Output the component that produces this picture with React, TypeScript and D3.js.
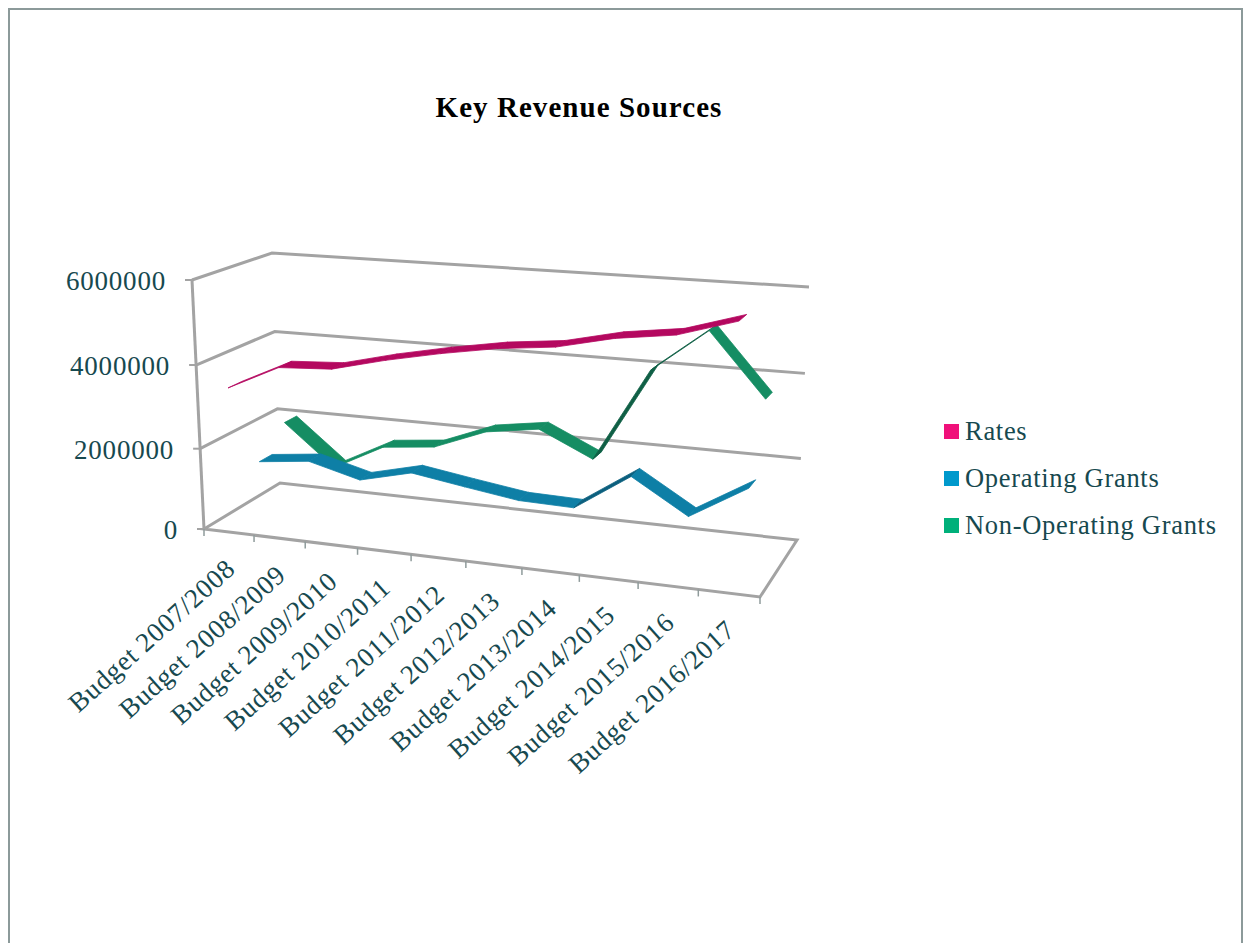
import * as d3 from 'd3';

// -----------------------------------------------------------------------------
// Data
// -----------------------------------------------------------------------------

const categories = [
	'Budget 2007/2008',
	'Budget 2008/2009',
	'Budget 2009/2010',
	'Budget 2010/2011',
	'Budget 2011/2012',
	'Budget 2012/2013',
	'Budget 2013/2014',
	'Budget 2014/2015',
	'Budget 2015/2016',
	'Budget 2016/2017',
];
const yTicks = [0, 2000000, 4000000, 6000000];
const rates = [3450000, 4040000, 4110000, 4420000, 4680000, 4900000, 5040000, 5340000, 5520000, 5930000];
const operatingGrants = [1300000, 1440000, 1110000, 1420000, 1220000, 1030000, 1000000, 1880000, 1090000, 1890000];
const nonOperatingGrants = [1930000, 900000, 1550000, 1680000, 2180000, 2370000, 1770000, 4000000, 5030000, 3560000];

const seriesNames = ['Rates', 'Operating Grants', 'Non-Operating Grants'];
const seriesValues = [rates, operatingGrants, nonOperatingGrants];
const seriesDepth = [0.15, 0.5, 0.85];
const legendColors = ['#f0107a', '#0099cc', '#00b07a'];
const ribbonColors = ['#b4085f', '#0e7fa6', '#158d63'];
const ribbonDark = ['#8f0a4e', '#0b5f7e', '#0f5f45'];

// -----------------------------------------------------------------------------
// Projection: floor quad + height vectors, all in page pixels
// -----------------------------------------------------------------------------

type Pt = [number, number];

const floorFL: Pt = [204, 529];
const floorFR: Pt = [760, 597];
const floorBR: Pt = [797, 540];
const floorBL: Pt = [280, 483];

// vector from floor to the 6000000 level at each corner
const upFL: Pt = [-12, -249];
const upFR: Pt = [8, -274];
const upBR: Pt = [12, -253];
const upBL: Pt = [-8, -230];

const ribbonHalf = 0.085;

function makeHomography(p0: Pt, p1: Pt, p2: Pt, p3: Pt) {
	const dx1 = p1[0] - p2[0];
	const dx2 = p3[0] - p2[0];
	const sx = p0[0] - p1[0] + p2[0] - p3[0];
	const dy1 = p1[1] - p2[1];
	const dy2 = p3[1] - p2[1];
	const sy = p0[1] - p1[1] + p2[1] - p3[1];
	const det = dx1 * dy2 - dx2 * dy1;
	const g = (sx * dy2 - dx2 * sy) / det;
	const h = (dx1 * sy - sx * dy1) / det;
	const a = p1[0] - p0[0] + g * p1[0];
	const b = p3[0] - p0[0] + h * p3[0];
	const d = p1[1] - p0[1] + g * p1[1];
	const e = p3[1] - p0[1] + h * p3[1];
	return (u: number, v: number): Pt => {
		const w = g * u + h * v + 1;
		return [(a * u + b * v + p0[0]) / w, (d * u + e * v + p0[1]) / w];
	};
}

const floor = makeHomography(floorFL, floorFR, floorBR, floorBL);
// slight power curve: the height axis foreshortens a little in the original
const yScale = d3.scalePow().exponent(1.03).domain([0, 6000000]).range([0, 1]);
const band = d3.scaleBand<number>().domain(d3.range(categories.length)).range([0, 1]);

function project(u: number, value: number, depth: number): Pt {
	const [fx, fy] = floor(u, depth);
	const k = yScale(value);
	const mix = (i: 0 | 1) =>
		(1 - u) * (1 - depth) * upFL[i] + u * (1 - depth) * upFR[i] + u * depth * upBR[i] + (1 - u) * depth * upBL[i];
	return [fx + mix(0) * k, fy + mix(1) * k];
}

const center = (i: number) => (band(i) as number) + band.bandwidth() / 2;
const pathOf = d3.line<Pt>();

const textColor = '#17494f';
const gridColor = '#a3a3a3';
const fontFamily = '"Liberation Serif", serif';

// -----------------------------------------------------------------------------
// Component
// -----------------------------------------------------------------------------

export default function App() {
	const order = [2, 1, 0];

	return (
		<svg width={1250} height={943} style={{ position: 'absolute', left: 0, top: 0, background: '#fff' }} fontFamily={fontFamily}>
			{/* page frame */}
			<path d="M9,943V9H1242V943" fill="none" stroke="#8c9a9a" strokeWidth={2} />

			<text x={579} y={117} textAnchor="middle" fontSize={29} fontWeight="bold" fill="#000" letterSpacing={1.05}>
				Key Revenue Sources
			</text>

			{/* floor */}
			<path d={pathOf([floorFL, floorFR, floorBR, floorBL])! + 'Z'} fill="none" stroke={gridColor} strokeWidth={3} />

			{/* walls */}
			{yTicks.slice(1).map((t) => (
				<path
					key={t}
					d={pathOf([project(0, t, 0), project(0, t, 1), project(1, t, 1)])!}
					fill="none"
					stroke={gridColor}
					strokeWidth={3}
				/>
			))}
			<path d={pathOf([project(0, 0, 0), project(0, 6000000, 0)])!} stroke={gridColor} strokeWidth={3} fill="none" />

			{/* value axis */}
			{yTicks.map((t) => {
				const [x, y] = project(0, t, 0);
				return (
					<g key={t}>
						<line x1={x - 7} x2={x} y1={y} y2={y} stroke={gridColor} strokeWidth={2} />
						<text x={x - 26} y={y + 10} textAnchor="end" fontSize={27} fill={textColor} letterSpacing={0.8}>
							{t}
						</text>
					</g>
				);
			})}

			{/* category axis */}
			{d3.range(categories.length + 1).map((i) => {
				const [x, y] = project(i / categories.length, 0, 0);
				return <line key={i} x1={x} x2={x} y1={y} y2={y + 7} stroke="#8f9b9b" strokeWidth={1.5} />;
			})}
			{categories.map((c, i) => {
				const [x, y] = project(center(i), 0, 0);
				return (
					<text
						key={c}
						transform={`translate(${x + 8},${y + 39}) rotate(-42)`}
						textAnchor="end"
						fontSize={27}
						fill={textColor}
						letterSpacing={0.8}
					>
						{c}
					</text>
				);
			})}

			{/* ribbons, far series first */}
			{order.map((s) => (
				<g key={seriesNames[s]}>
					{seriesValues[s].slice(1).map((v, k) => {
						const v0 = seriesValues[s][k];
						const d0 = seriesDepth[s] - ribbonHalf;
						const d1 = seriesDepth[s] + ribbonHalf;
						const a = project(center(k), v0, d0);
						const b = project(center(k + 1), v, d0);
						const c = project(center(k + 1), v, d1);
						const e = project(center(k), v0, d1);
						const rising = (b[1] - a[1]) / (b[0] - a[0]) < -0.5;
						const fill = rising ? ribbonDark[s] : ribbonColors[s];
						return <path key={k} d={pathOf([a, b, c, e])! + 'Z'} fill={fill} stroke={fill} strokeWidth={0.8} strokeLinejoin="round" />;
					})}
				</g>
			))}

			{/* legend */}
			{seriesNames.map((name, i) => (
				<g key={name} transform={`translate(944,${424 + i * 47})`}>
					<rect width={15} height={15} fill={legendColors[i]} />
					<text x={21} y={16} fontSize={26.5} fill={textColor} letterSpacing={0.7}>
						{name}
					</text>
				</g>
			))}
		</svg>
	);
}
